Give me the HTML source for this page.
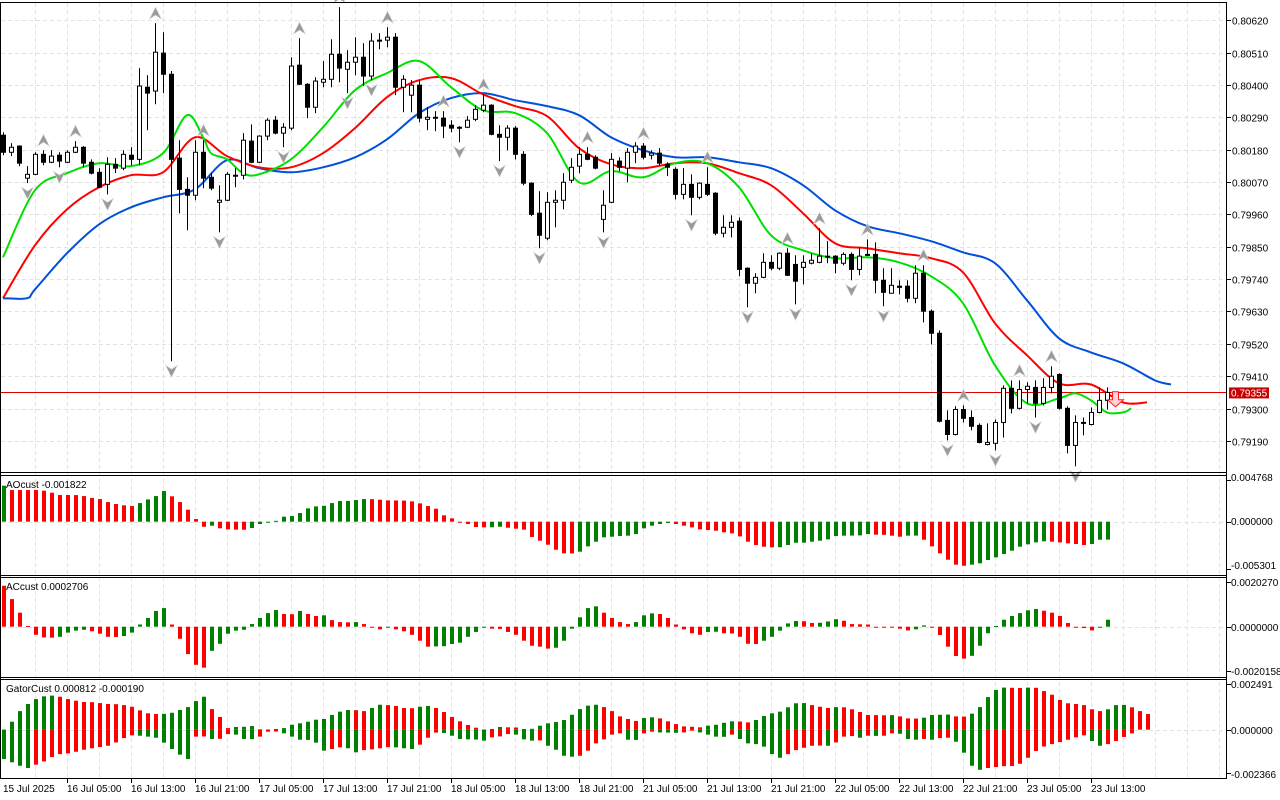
<!DOCTYPE html>
<html><head><meta charset="utf-8"><title>Chart</title>
<style>
html,body{margin:0;padding:0;background:#fff;}
svg{display:block;font-family:"Liberation Sans","DejaVu Sans",sans-serif;font-size:10px;}
</style></head>
<body>
<svg id="chart" width="1280" height="800" viewBox="0 0 1280 800" xmlns="http://www.w3.org/2000/svg">
<rect x="0" y="0" width="1280" height="800" fill="#fff"/>
<g id="grid"></g>
<g id="sub"></g>
<g id="lines"></g>
<g id="candles"></g>
<g id="fractals"></g>
<g id="frame">
<line x1="0.5" y1="2.5" x2="1227" y2="2.5" stroke="#000"/>
<line x1="0.5" y1="2" x2="0.5" y2="779" stroke="#000"/>
<line x1="1226.5" y1="2" x2="1226.5" y2="779" stroke="#000"/>
<line x1="0" y1="472.5" x2="1227" y2="472.5" stroke="#000"/>
<line x1="0" y1="475.5" x2="1227" y2="475.5" stroke="#000"/>
<line x1="0" y1="575.5" x2="1227" y2="575.5" stroke="#000"/>
<line x1="0" y1="577.5" x2="1227" y2="577.5" stroke="#000"/>
<line x1="0" y1="677.5" x2="1227" y2="677.5" stroke="#000"/>
<line x1="0" y1="679.5" x2="1227" y2="679.5" stroke="#000"/>
<line x1="0" y1="778.5" x2="1227" y2="778.5" stroke="#000"/>
</g>
<g id="axes"></g>
<text x="6" y="488" fill="#000">AOcust -0.001822</text>
<text x="6" y="590" fill="#000">ACcust 0.0002706</text>
<text x="6" y="692" fill="#000">GatorCust 0.000812 -0.000190</text>
</svg>
<script>
const opens=[0.80229,0.80171,0.80192,0.80083,0.80096,0.80164,0.80137,0.80161,0.80137,0.80171,0.80188,0.80137,0.80103,0.80062,0.80130,0.80117,0.80161,0.80147,0.80392,0.80379,0.80508,0.80436,0.80151,0.80045,0.80025,0.80171,0.80086,0.80001,0.80008,0.80090,0.80093,0.80209,0.80137,0.80226,0.80280,0.80236,0.80253,0.80467,0.80402,0.80324,0.80409,0.80419,0.80504,0.80453,0.80477,0.80494,0.80430,0.80549,0.80552,0.80562,0.80392,0.80365,0.80399,0.80283,0.80290,0.80287,0.80263,0.80256,0.80256,0.80283,0.80314,0.80331,0.80232,0.80222,0.80253,0.80164,0.80066,0.79964,0.79879,0.80001,0.80008,0.80076,0.80124,0.80164,0.80154,0.79943,0.80001,0.80141,0.80117,0.80171,0.80192,0.80161,0.80168,0.80130,0.80113,0.80028,0.80062,0.80018,0.80062,0.80032,0.79896,0.79916,0.79937,0.79777,0.79726,0.79746,0.79797,0.79777,0.79828,0.79790,0.79780,0.79794,0.79797,0.79818,0.79818,0.79794,0.79824,0.79773,0.79824,0.79824,0.79736,0.79692,0.79716,0.79716,0.79675,0.79760,0.79631,0.79556,0.79260,0.79212,0.79297,0.79270,0.79243,0.79178,0.79182,0.79253,0.79369,0.79301,0.79365,0.79372,0.79318,0.79372,0.79416,0.79301,0.79175,0.79253,0.79246,0.79287,0.79328];
const highs=[0.80239,0.80202,0.80195,0.80124,0.80171,0.80178,0.80178,0.80171,0.80178,0.80209,0.80192,0.80147,0.80117,0.80154,0.80151,0.80178,0.80188,0.80457,0.80433,0.80610,0.80579,0.80447,0.80212,0.80086,0.80212,0.80212,0.80100,0.80059,0.80103,0.80117,0.80236,0.80266,0.80229,0.80287,0.80294,0.80270,0.80494,0.80559,0.80406,0.80426,0.80481,0.80555,0.80664,0.80518,0.80562,0.80542,0.80576,0.80576,0.80596,0.80576,0.80433,0.80416,0.80416,0.80324,0.80311,0.80311,0.80280,0.80260,0.80294,0.80331,0.80368,0.80334,0.80263,0.80263,0.80260,0.80175,0.80069,0.80039,0.80035,0.80042,0.80100,0.80151,0.80188,0.80188,0.80161,0.80042,0.80168,0.80154,0.80185,0.80205,0.80202,0.80178,0.80185,0.80137,0.80120,0.80117,0.80096,0.80069,0.80120,0.80035,0.79957,0.79957,0.79950,0.79780,0.79760,0.79828,0.79821,0.79831,0.79845,0.79821,0.79821,0.79828,0.79913,0.79869,0.79821,0.79831,0.79831,0.79848,0.79875,0.79865,0.79777,0.79777,0.79736,0.79736,0.79787,0.79787,0.79637,0.79566,0.79294,0.79308,0.79311,0.79294,0.79250,0.79250,0.79263,0.79379,0.79396,0.79396,0.79389,0.79396,0.79403,0.79444,0.79420,0.79308,0.79277,0.79270,0.79304,0.79372,0.79372];
const lows=[0.80161,0.80158,0.80124,0.80066,0.80093,0.80127,0.80134,0.80120,0.80134,0.80168,0.80120,0.80096,0.80049,0.80028,0.80100,0.80110,0.80127,0.80127,0.80246,0.80334,0.80372,0.79461,0.79964,0.79906,0.80008,0.80049,0.80042,0.79899,0.80005,0.80052,0.80079,0.80134,0.80134,0.80212,0.80232,0.80188,0.80246,0.80399,0.80287,0.80304,0.80392,0.80392,0.80409,0.80372,0.80433,0.80396,0.80416,0.80521,0.80528,0.80365,0.80307,0.80307,0.80273,0.80246,0.80243,0.80219,0.80239,0.80205,0.80253,0.80277,0.80307,0.80229,0.80141,0.80178,0.80147,0.80059,0.79954,0.79845,0.79872,0.79916,0.79977,0.80066,0.80100,0.80144,0.80113,0.79899,0.79998,0.80107,0.80069,0.80134,0.80147,0.80147,0.80127,0.80090,0.80011,0.80011,0.79957,0.80011,0.80022,0.79889,0.79882,0.79882,0.79750,0.79644,0.79692,0.79743,0.79770,0.79770,0.79750,0.79654,0.79722,0.79790,0.79794,0.79794,0.79760,0.79787,0.79736,0.79753,0.79818,0.79692,0.79648,0.79692,0.79688,0.79661,0.79658,0.79593,0.79518,0.79253,0.79192,0.79209,0.79253,0.79226,0.79182,0.79175,0.79158,0.79202,0.79284,0.79297,0.79318,0.79270,0.79311,0.79352,0.79297,0.79148,0.79104,0.79209,0.79243,0.79284,0.79297];
const closes=[0.80171,0.80188,0.80134,0.80096,0.80164,0.80137,0.80158,0.80141,0.80171,0.80188,0.80134,0.80100,0.80052,0.80130,0.80117,0.80164,0.80147,0.80396,0.80372,0.80511,0.80436,0.80147,0.80045,0.80025,0.80171,0.80083,0.80049,0.80008,0.80096,0.80093,0.80212,0.80137,0.80226,0.80280,0.80236,0.80256,0.80464,0.80402,0.80324,0.80413,0.80419,0.80504,0.80457,0.80477,0.80494,0.80430,0.80549,0.80552,0.80562,0.80392,0.80419,0.80399,0.80287,0.80290,0.80287,0.80260,0.80253,0.80256,0.80280,0.80317,0.80331,0.80232,0.80222,0.80253,0.80164,0.80066,0.79960,0.79889,0.80001,0.80008,0.80069,0.80120,0.80164,0.80147,0.80117,0.79991,0.80147,0.80120,0.80171,0.80192,0.80154,0.80168,0.80134,0.80120,0.80028,0.80062,0.80018,0.80066,0.80028,0.79896,0.79916,0.79933,0.79773,0.79726,0.79746,0.79797,0.79777,0.79828,0.79753,0.79733,0.79797,0.79804,0.79818,0.79815,0.79794,0.79824,0.79773,0.79818,0.79821,0.79736,0.79695,0.79719,0.79712,0.79675,0.79760,0.79631,0.79556,0.79257,0.79212,0.79297,0.79267,0.79240,0.79185,0.79185,0.79253,0.79369,0.79301,0.79365,0.79376,0.79318,0.79372,0.79410,0.79301,0.79175,0.79253,0.79250,0.79287,0.79328,0.79355];

const jawIdx=[0,3,4,8,12,16,20,24,28,32,36,40,44,48,52,56,60,64,68,72,76,80,84,88,92,96,100,104,108,112,116,120,124,128,132,136,140,144,146];
const jawVal=[0.79675,0.79675,0.79705,0.79828,0.79926,0.79984,0.80018,0.80045,0.80144,0.80117,0.80103,0.80120,0.80154,0.80215,0.80304,0.80355,0.80372,0.80348,0.80328,0.80297,0.80222,0.80178,0.80154,0.80154,0.80137,0.80117,0.80059,0.79974,0.79920,0.79896,0.79869,0.79831,0.79794,0.79668,0.79539,0.79491,0.79454,0.79396,0.79382];
const teethIdx=[0,4,8,12,16,20,24,28,32,36,40,44,48,52,56,60,64,68,72,76,80,84,88,92,96,100,104,108,112,116,120,124,128,132,136,140,143];
const teethVal=[0.79675,0.79855,0.79977,0.80052,0.80093,0.80103,0.80222,0.80158,0.80120,0.80120,0.80168,0.80253,0.80358,0.80416,0.80423,0.80368,0.80328,0.80294,0.80185,0.80130,0.80117,0.80134,0.80134,0.80100,0.80059,0.79964,0.79862,0.79845,0.79828,0.79811,0.79763,0.79590,0.79481,0.79386,0.79382,0.79321,0.79321];
const lipsIdx=[0,4,8,12,16,20,23,25,26,28,30,32,36,40,44,48,52,56,60,64,68,72,76,80,84,88,92,96,100,104,108,112,116,120,124,128,132,134,136,138,140,141];
const lipsVal=[0.79814,0.80042,0.80100,0.80134,0.80124,0.80168,0.80297,0.80222,0.80168,0.80147,0.80100,0.80096,0.80147,0.80256,0.80382,0.80440,0.80481,0.80392,0.80314,0.80304,0.80236,0.80069,0.80107,0.80086,0.80134,0.80134,0.80052,0.79889,0.79838,0.79811,0.79814,0.79797,0.79750,0.79658,0.79447,0.79318,0.79335,0.79352,0.79328,0.79287,0.79287,0.79301];

const fractalUp=[5,9,19,25,37,42,48,55,60,73,80,88,98,102,108,115,120,127,131];
const fractalDown=[3,7,13,21,27,35,43,46,57,62,67,75,86,93,99,106,110,118,124,129,134];

const aoValues=[0.00407,0.00358,0.00358,0.00358,0.00358,0.00351,0.00328,0.00302,0.00302,0.00301,0.00290,0.00268,0.00256,0.00222,0.00200,0.00185,0.00177,0.00211,0.00252,0.00290,0.00347,0.00287,0.00222,0.00136,0.00030,-0.00057,-0.00045,-0.00075,-0.00087,-0.00090,-0.00091,-0.00072,-0.00026,-0.00008,0.00010,0.00057,0.00064,0.00098,0.00151,0.00173,0.00180,0.00211,0.00234,0.00235,0.00245,0.00256,0.00255,0.00249,0.00241,0.00240,0.00239,0.00230,0.00207,0.00177,0.00147,0.00072,0.00038,0.00000,-0.00026,-0.00060,-0.00064,-0.00063,-0.00057,-0.00068,-0.00079,-0.00090,-0.00173,-0.00215,-0.00260,-0.00317,-0.00358,-0.00359,-0.00339,-0.00279,-0.00226,-0.00177,-0.00170,-0.00162,-0.00158,-0.00140,-0.00075,-0.00045,-0.00026,-0.00015,-0.00026,-0.00045,-0.00064,-0.00087,-0.00094,-0.00102,-0.00120,-0.00132,-0.00166,-0.00226,-0.00264,-0.00283,-0.00290,-0.00289,-0.00264,-0.00238,-0.00237,-0.00226,-0.00215,-0.00200,-0.00162,-0.00158,-0.00157,-0.00155,-0.00140,-0.00147,-0.00148,-0.00158,-0.00170,-0.00158,-0.00157,-0.00204,-0.00279,-0.00358,-0.00430,-0.00486,-0.00498,-0.00486,-0.00471,-0.00433,-0.00403,-0.00366,-0.00328,-0.00283,-0.00256,-0.00234,-0.00222,-0.00226,-0.00234,-0.00245,-0.00252,-0.00264,-0.00252,-0.00204,-0.00203];
const acValues=[0.00187,0.00126,0.00064,0.00003,-0.00037,-0.00049,-0.00050,-0.00046,-0.00027,-0.00018,-0.00014,-0.00021,-0.00032,-0.00046,-0.00047,-0.00043,-0.00027,0.00010,0.00040,0.00072,0.00085,0.00010,-0.00055,-0.00125,-0.00174,-0.00187,-0.00110,-0.00078,-0.00032,-0.00018,-0.00014,0.00012,0.00040,0.00062,0.00076,0.00058,0.00057,0.00072,0.00058,0.00049,0.00052,0.00030,0.00021,0.00020,0.00021,0.00012,-0.00001,-0.00012,-0.00003,-0.00012,-0.00021,-0.00037,-0.00064,-0.00091,-0.00090,-0.00089,-0.00079,-0.00073,-0.00046,-0.00024,-0.00003,-0.00009,-0.00010,-0.00024,-0.00037,-0.00064,-0.00087,-0.00091,-0.00100,-0.00096,-0.00064,-0.00009,0.00043,0.00085,0.00093,0.00064,0.00040,0.00021,0.00012,0.00021,0.00052,0.00061,0.00058,0.00040,0.00010,-0.00012,-0.00030,-0.00037,-0.00024,-0.00023,-0.00030,-0.00031,-0.00046,-0.00078,-0.00079,-0.00064,-0.00046,-0.00018,0.00015,0.00026,0.00025,0.00017,0.00018,0.00024,0.00034,0.00027,0.00012,0.00011,0.00010,-0.00003,-0.00003,-0.00004,-0.00009,-0.00017,-0.00012,0.00006,-0.00003,-0.00038,-0.00091,-0.00134,-0.00146,-0.00133,-0.00087,-0.00030,0.00003,0.00032,0.00049,0.00062,0.00075,0.00081,0.00073,0.00064,0.00049,0.00017,0.00000,-0.00006,-0.00017,-0.00003,0.00032];
const gatorUp=[0,0.00044,0.00102,0.00141,0.00168,0.00183,0.00187,0.00181,0.00168,0.00159,0.00152,0.00151,0.00146,0.00141,0.00140,0.00135,0.00126,0.00106,0.00090,0.00086,0.00087,0.00093,0.00108,0.00124,0.00157,0.00181,0.00113,0.00070,0.00009,0.00015,0.00016,0.00020,0.00002,0.00001,0.00004,0.00009,0.00027,0.00035,0.00044,0.00055,0.00059,0.00081,0.00099,0.00108,0.00107,0.00102,0.00119,0.00137,0.00135,0.00130,0.00119,0.00118,0.00126,0.00130,0.00119,0.00097,0.00070,0.00046,0.00026,0.00011,0.00001,0.00004,0.00015,0.00013,0.00012,0.00004,0.00005,0.00022,0.00035,0.00042,0.00053,0.00082,0.00113,0.00132,0.00137,0.00124,0.00102,0.00073,0.00059,0.00048,0.00064,0.00068,0.00062,0.00046,0.00031,0.00018,0.00016,0.00013,0.00022,0.00027,0.00038,0.00046,0.00045,0.00040,0.00053,0.00075,0.00090,0.00099,0.00123,0.00145,0.00146,0.00135,0.00126,0.00119,0.00124,0.00123,0.00112,0.00097,0.00081,0.00080,0.00079,0.00080,0.00073,0.00062,0.00061,0.00066,0.00081,0.00082,0.00083,0.00073,0.00072,0.00088,0.00124,0.00179,0.00218,0.00231,0.00230,0.00229,0.00231,0.00230,0.00212,0.00192,0.00163,0.00145,0.00141,0.00135,0.00112,0.00102,0.00112,0.00135,0.00136,0.00123,0.00102,0.00086];
const gatorDown=[-0.00161,-0.00179,-0.00198,-0.00210,-0.00192,-0.00174,-0.00150,-0.00134,-0.00130,-0.00121,-0.00110,-0.00102,-0.00095,-0.00088,-0.00070,-0.00046,-0.00031,-0.00033,-0.00038,-0.00044,-0.00071,-0.00106,-0.00137,-0.00161,-0.00038,-0.00037,-0.00051,-0.00050,-0.00024,-0.00027,-0.00051,-0.00052,-0.00038,-0.00011,-0.00010,-0.00020,-0.00038,-0.00055,-0.00056,-0.00071,-0.00115,-0.00106,-0.00097,-0.00102,-0.00124,-0.00112,-0.00108,-0.00102,-0.00096,-0.00097,-0.00102,-0.00106,-0.00082,-0.00044,-0.00016,-0.00018,-0.00033,-0.00051,-0.00053,-0.00054,-0.00060,-0.00042,-0.00037,-0.00024,-0.00027,-0.00053,-0.00060,-0.00059,-0.00088,-0.00110,-0.00143,-0.00148,-0.00143,-0.00115,-0.00075,-0.00053,-0.00027,-0.00020,-0.00055,-0.00056,-0.00020,-0.00011,-0.00015,-0.00016,-0.00017,-0.00015,-0.00005,-0.00015,-0.00027,-0.00038,-0.00039,-0.00027,-0.00051,-0.00075,-0.00079,-0.00093,-0.00134,-0.00154,-0.00134,-0.00112,-0.00099,-0.00088,-0.00087,-0.00088,-0.00070,-0.00038,-0.00035,-0.00044,-0.00033,-0.00034,-0.00033,-0.00020,-0.00022,-0.00051,-0.00055,-0.00051,-0.00055,-0.00046,-0.00044,-0.00066,-0.00126,-0.00198,-0.00220,-0.00210,-0.00205,-0.00200,-0.00199,-0.00187,-0.00154,-0.00117,-0.00092,-0.00079,-0.00068,-0.00055,-0.00042,-0.00031,-0.00062,-0.00088,-0.00079,-0.00062,-0.00040,-0.00020];

const priceTicks=["0.80620","0.80510","0.80400","0.80290","0.80180","0.80070","0.79960","0.79850","0.79740","0.79630","0.79520","0.79410","0.79300","0.79190"];
const timeLabels=["15 Jul 2025","16 Jul 05:00","16 Jul 13:00","16 Jul 21:00","17 Jul 05:00","17 Jul 13:00","17 Jul 21:00","18 Jul 05:00","18 Jul 13:00","18 Jul 21:00","21 Jul 05:00","21 Jul 13:00","21 Jul 21:00","22 Jul 05:00","22 Jul 13:00","22 Jul 21:00","23 Jul 05:00","23 Jul 13:00"];
const aoTicks=[0.004768,0,-0.005301];
const aoTickText=["0.004768","0.000000","-0.005301"];
const acTicks=[0.0020270,0,-0.0020158];
const acTickText=["0.0020270","0.0000000","-0.0020158"];
const gTicks=[0.002491,0,-0.002366];
const gTickText=["0.002491","0.000000","-0.002366"];
const lastPrice=0.79355;

const NS="http://www.w3.org/2000/svg";
function mk(tag,attrs,parent){const e=document.createElementNS(NS,tag);for(const k in attrs)e.setAttribute(k,attrs[k]);parent.appendChild(e);return e;}
const xOf=i=>3+8*i;
const yP=p=>182+(0.80070-p)*29430;
const yAO=v=>521.7-v*8839;
const yAC=v=>626.7-v*21900;
const yG=v=>729.7-v*18225;
const G=id=>document.getElementById(id);
const grid=G('grid'),sub=G('sub'),lines=G('lines'),cg=G('candles'),fg=G('fractals'),axes=G('axes');
const GREEN='#008000',RED='#ff0000';

for(let x=35;x<1226;x+=32){
  const l=mk('line',{x1:x+.5,y1:3,x2:x+.5,y2:778,stroke:'#e2e2e2','stroke-dasharray':'4,3'},grid);
  
  
}
priceTicks.forEach(t=>{
  const y=Math.round(yP(parseFloat(t)))+.5;
  const l=mk('line',{x1:1,y1:y,x2:1226,y2:y,stroke:'#e2e2e2','stroke-dasharray':'4,3'},grid);
  
  
  const tk=mk('line',{x1:1227,y1:y,x2:1231,y2:y,stroke:'#000'},axes);
  
  
  const tx=mk('text',{x:1232,y:y+4,fill:'#000'},axes);tx.textContent=t;
  
  
});
[[yAO,aoTicks,aoTickText,[481,525,569]],[yAC,acTicks,acTickText,[586,631,675]],[yG,gTicks,gTickText,[688,734,778]]].forEach(([f,ticks,txt,ty])=>{
  const z=Math.round(f(0))+.5;
  const l=mk('line',{x1:1,y1:z,x2:1226,y2:z,stroke:'#e2e2e2','stroke-dasharray':'4,3'},grid);
  
  
  ticks.forEach((v,k)=>{
    const y=Math.round(f(v))+.5;
    const tk=mk('line',{x1:1227,y1:y,x2:1231,y2:y,stroke:'#000'},axes);
    
    
    const tx=mk('text',{x:1231,y:ty[k],fill:'#000'},axes);tx.textContent=txt[k];
    
    
  });
});
timeLabels.forEach((t,k)=>{
  const x=xOf(8*k);
  if(k>0){const tk=mk('line',{x1:x+.5,y1:779,x2:x+.5,y2:783,stroke:'#000'},axes);
  
  }
  const tx=mk('text',{x:x,y:792,fill:'#000'},axes);tx.textContent=t;
  
  
});

function hist(vals,f,name,colorFn){
  vals.forEach((v,i)=>{
    const y0=f(0),y1=f(v);
    const r=mk('rect',{x:xOf(i)-1,y:Math.min(y0,y1),width:4,height:Math.max(1,Math.abs(y1-y0)),fill:colorFn(v,i)},sub);
    
    
  });
}
hist(aoValues,yAO,'ao-bar',(v,i)=>i===0||v>aoValues[i-1]?GREEN:RED);
hist(acValues,yAC,'ac-bar',(v,i)=>i===0?RED:(v>acValues[i-1]?GREEN:RED));
hist(gatorUp,yG,'gator-up-bar',(v,i)=>i===0||v>gatorUp[i-1]?GREEN:RED);
hist(gatorDown,yG,'gator-down-bar',(v,i)=>i===0||Math.abs(v)>Math.abs(gatorDown[i-1])?GREEN:RED);

const pl=mk('line',{x1:1,y1:Math.round(yP(lastPrice))+.5,x2:1227,y2:Math.round(yP(lastPrice))+.5,stroke:'#e00000'},lines);


const ly=yP(lastPrice);
const pb=mk('rect',{x:1229,y:ly-5,width:40,height:11,fill:'#c80000'},axes);


const pt=mk('text',{x:1231,y:ly+4,fill:'#fff'},axes);pt.textContent=lastPrice.toFixed(5);



function smoothPath(pts){
  let d='M'+pts[0][0]+','+pts[0][1].toFixed(1);
  for(let i=0;i<pts.length-1;i++){
    const p0=pts[Math.max(0,i-1)],p1=pts[i],p2=pts[i+1],p3=pts[Math.min(pts.length-1,i+2)];
    const c1x=p1[0]+(p2[0]-p0[0])/6,c1y=p1[1]+(p2[1]-p0[1])/6;
    const c2x=p2[0]-(p3[0]-p1[0])/6,c2y=p2[1]-(p3[1]-p1[1])/6;
    d+=` C${c1x.toFixed(1)},${c1y.toFixed(1)} ${c2x.toFixed(1)},${c2y.toFixed(1)} ${p2[0]},${p2[1].toFixed(1)}`;
  }
  return d;
}
function poly(idx,vals,color,name){
  const pts=idx.map((k,j)=>[xOf(k),yP(vals[j])]);
  const p=mk('path',{d:smoothPath(pts),fill:'none',stroke:color,'stroke-width':2,'stroke-linejoin':'round'},lines);
  
  
}
poly(jawIdx,jawVal,'#0050d8','alligator-jaw');
poly(teethIdx,teethVal,'#ff0000','alligator-teeth');
poly(lipsIdx,lipsVal,'#00e000','alligator-lips');

opens.forEach((o,i)=>{
  const c=closes[i],x=xOf(i);
  const w=mk('line',{x1:x+.5,y1:yP(highs[i]),x2:x+.5,y2:yP(lows[i]),stroke:'#000'},cg);
  
  
  const top=yP(Math.max(o,c)),bot=yP(Math.min(o,c));
  const up=c>=o;
  const b=mk('rect',{x:x-1.5,y:top,width:4,height:Math.max(1,bot-top),fill:up?'#fff':'#000',stroke:'#000','stroke-width':1},cg);
  
  
});

fractalUp.forEach(i=>{
  const x=xOf(i)+.5,y=yP(highs[i])-10;
  const a=mk('polygon',{points:`${x},${y-6} ${x+6},${y+6} ${x},${y+2} ${x-6},${y+6}`,fill:'#9a9a9a',stroke:'#d8d8d8','stroke-width':.6},fg);
  
  
});
fractalDown.forEach(i=>{
  const x=xOf(i)+.5,y=yP(lows[i])+10;
  const a=mk('polygon',{points:`${x},${y+6} ${x+6},${y-6} ${x},${y-2} ${x-6},${y-6}`,fill:'#9a9a9a',stroke:'#d8d8d8','stroke-width':.6},fg);
  
  
});

const sx=xOf(139)+.5,sy=yP(0.79330);
const sa=mk('polygon',{points:`${sx-3},${sy-8} ${sx+3},${sy-8} ${sx+3},${sy} ${sx+8},${sy} ${sx},${sy+7} ${sx-8},${sy} ${sx-3},${sy}`,fill:'#ffd0e0',stroke:'#ff2020','stroke-width':1},fg);


</script>
</body></html>
